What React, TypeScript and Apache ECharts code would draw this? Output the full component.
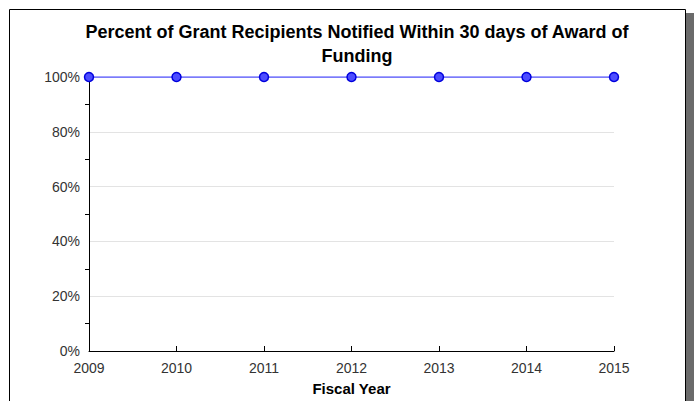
import React, { useEffect, useRef } from "react";
import * as echarts from "echarts";

const categories = ["2009", "2010", "2011", "2012", "2013", "2014", "2015"];
const values = [100, 100, 100, 100, 100, 100, 100];
const titleText = "Percent of Grant Recipients Notified Within 30 days of Award of\nFunding";
const xAxisName = "Fiscal Year";

export default function App() {
  const ref = useRef<HTMLDivElement>(null);
  useEffect(() => {
    if (!ref.current) return;
    const chart = echarts.init(ref.current, null, { renderer: "svg" });
    const font = "Liberation Sans, Arial, sans-serif";
    chart.setOption({
      animation: false,
      backgroundColor: "#ffffff",
      textStyle: { fontFamily: font },
      title: {
        text: titleText,
        left: 352,
        textAlign: "center",
        top: 15,
        textStyle: { fontSize: 18, fontWeight: "bold", color: "#000", lineHeight: 24, fontFamily: font },
      },
      graphic: [
        { type: "line", shape: { x1: 9.5, y1: 9.5, x2: 685.5, y2: 9.5 }, style: { stroke: "#000", lineWidth: 1 } },
        { type: "line", shape: { x1: 9.5, y1: 9.5, x2: 9.5, y2: 401 }, style: { stroke: "#000", lineWidth: 1 } },
        { type: "line", shape: { x1: 685.5, y1: 9.5, x2: 685.5, y2: 401 }, style: { stroke: "#000", lineWidth: 1 } },
        { type: "rect", shape: { x: 686, y: 13, width: 8, height: 388 }, style: { fill: "#6b6b6b" } },
      ],
      grid: { left: 89, right: 80, top: 77, bottom: 50, containLabel: false, outerBoundsMode: "none" },
      xAxis: {
        type: "category",
        data: categories,
        boundaryGap: false,
        name: xAxisName,
        nameLocation: "middle",
        nameGap: 30,
        nameTextStyle: { fontSize: 15, fontWeight: "bold", color: "#000", fontFamily: font },
        axisLine: { lineStyle: { color: "#000", width: 1 } },
        axisTick: { inside: true, length: 5, lineStyle: { color: "#000" } },
        axisLabel: { fontSize: 14, color: "#333", margin: 10, fontFamily: font },
        splitLine: { show: false },
      },
      yAxis: {
        type: "value",
        min: 0,
        max: 100,
        interval: 20,
        axisLine: { show: true, lineStyle: { color: "#000", width: 1 } },
        axisTick: { show: false },
        minorTick: { show: true, splitNumber: 2, length: 4, lineStyle: { color: "#000" } },
        axisLabel: { fontSize: 14, color: "#333", margin: 9, formatter: "{value}%", fontFamily: font },
        splitLine: { show: true, lineStyle: { color: "#e3e3e3", width: 1 } },
      },
      series: [
        {
          type: "line",
          data: values,
          symbol: "circle",
          symbolSize: 9,
          lineStyle: { color: "#5a5aff", width: 1.5 },
          itemStyle: { color: "#4d4dff", borderColor: "#0000dd", borderWidth: 1.5 },
        },
      ],
    });
    return () => chart.dispose();
  }, []);
  return <div ref={ref} style={{ position: "fixed", left: 0, top: 0, width: 694, height: 401 }} />;
}
